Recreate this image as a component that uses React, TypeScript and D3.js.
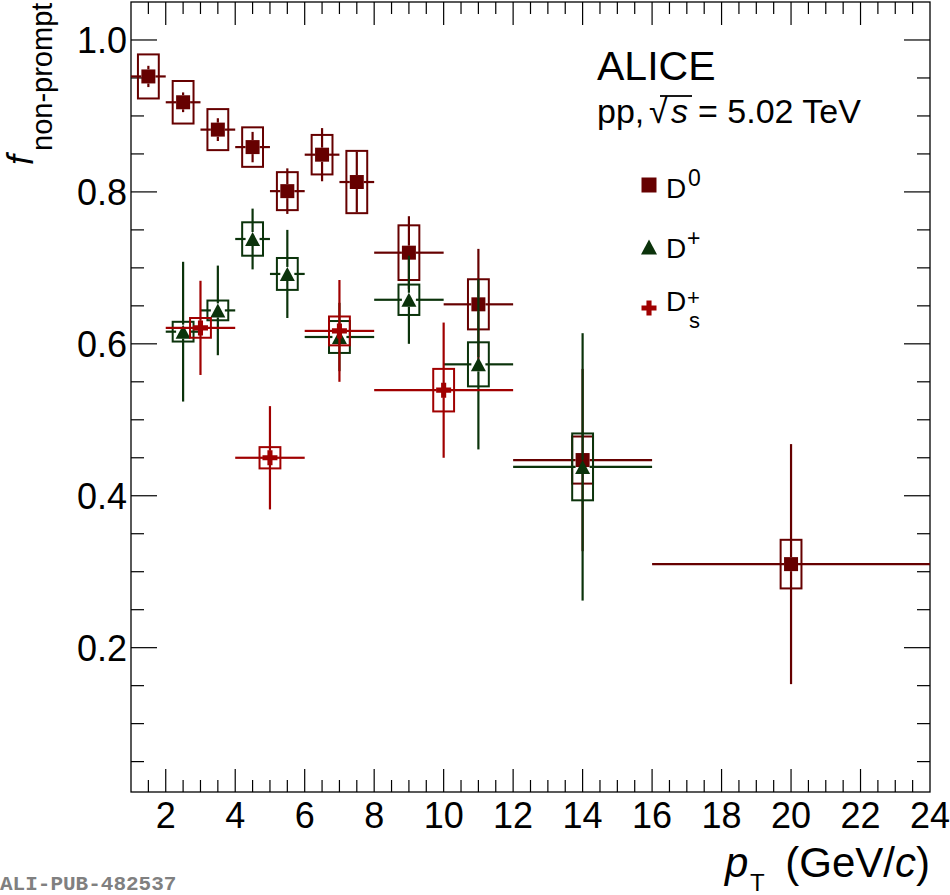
import { useEffect, useRef } from 'react';
import * as d3 from 'd3';

// D0 (filled squares)
const d0Pt = [1.5, 2.5, 3.5, 4.5, 5.5, 6.5, 7.5, 9, 11, 14, 20];
const d0Lo = [1, 2, 3, 4, 5, 6, 7, 8, 10, 12, 16];
const d0Hi = [2, 3, 4, 5, 6, 7, 8, 10, 12, 16, 24];
const d0Val = [0.952, 0.918, 0.882, 0.859, 0.801, 0.849, 0.813, 0.72, 0.652, 0.447, 0.31];
const d0Stat = [0.014, 0.013, 0.015, 0.02, 0.03, 0.035, 0.04, 0.048, 0.073, 0.12, 0.158];
const d0Syst = [0.029, 0.028, 0.027, 0.026, 0.025, 0.026, 0.041, 0.036, 0.033, 0.031, 0.032];

// D+ (filled triangles)
const dpPt = [2.5, 3.5, 4.5, 5.5, 7, 9, 11, 14];
const dpLo = [2, 3, 4, 5, 6, 8, 10, 12];
const dpHi = [3, 4, 5, 6, 8, 10, 12, 16];
const dpVal = [0.616, 0.644, 0.738, 0.692, 0.609, 0.658, 0.573, 0.438];
const dpStat = [0.092, 0.059, 0.04, 0.058, 0.045, 0.058, 0.112, 0.176];
const dpSyst = [0.013, 0.013, 0.022, 0.021, 0.021, 0.02, 0.029, 0.044];

// Ds+ (thick crosses)
const dsPt = [3, 5, 7, 10];
const dsLo = [2, 4, 6, 8];
const dsHi = [4, 6, 8, 12];
const dsVal = [0.621, 0.45, 0.617, 0.539];
const dsStat = [0.062, 0.068, 0.067, 0.089];
const dsSyst = [0.013, 0.014, 0.019, 0.028];

const xTickLabels = [2, 4, 6, 8, 10, 12, 14, 16, 18, 20, 22, 24];
const yTickLabels = [0.2, 0.4, 0.6, 0.8, 1.0];

const FONT = '"Liberation Sans", Arial, Helvetica, sans-serif';

type Series = {
  pt: number[];
  lo: number[];
  hi: number[];
  val: number[];
  stat: number[];
  syst: number[];
  color: string;
  marker: 'square' | 'triangle' | 'cross';
};

const series: Series[] = [
  { pt: d0Pt, lo: d0Lo, hi: d0Hi, val: d0Val, stat: d0Stat, syst: d0Syst, color: '#660000', marker: 'square' },
  { pt: dpPt, lo: dpLo, hi: dpHi, val: dpVal, stat: dpStat, syst: dpSyst, color: '#0b330b', marker: 'triangle' },
  { pt: dsPt, lo: dsLo, hi: dsHi, val: dsVal, stat: dsStat, syst: dsSyst, color: '#a00000', marker: 'cross' },
];

function markerPath(kind: string, s: number) {
  const h = s / 2;
  if (kind === 'square') return `M${-h},${-h}H${h}V${h}H${-h}Z`;
  if (kind === 'triangle') return `M0,${-h}L${h + 0.5},${h}L${-h - 0.5},${h}Z`;
  const a = s * 0.17;
  return `M${-a},${-h}H${a}V${-a}H${h}V${a}H${a}V${h}H${-a}V${a}H${-h}V${-a}H${-a}Z`;
}

export default function App() {
  const svgRef = useRef<SVGSVGElement>(null);

  useEffect(() => {
    if (!svgRef.current) return;
    const width = 950;
    const height = 895;
    const margin = { top: 2, right: 20, bottom: 103, left: 131 };

    d3.select(svgRef.current).selectAll('*').remove();
    const svg = d3.select(svgRef.current).attr('width', width).attr('height', height);

    const x = d3.scaleLinear().domain([1, 24]).range([margin.left, width - margin.right]);
    const y = d3.scaleLinear().domain([0.01, 1.05]).range([height - margin.bottom, margin.top]);
    const [x0, x1] = x.range();
    const [y0, y1] = y.range();

    // Frame
    svg
      .append('rect')
      .attr('x', x0)
      .attr('y', y1)
      .attr('width', x1 - x0)
      .attr('height', y0 - y1)
      .attr('fill', 'none')
      .attr('stroke', '#000')
      .attr('stroke-width', 1.3);

    const ticks = svg.append('g').attr('stroke', '#000').attr('stroke-width', 1.2);

    // x ticks (bottom + top), minor every 0.5
    d3.range(1.5, 24, 0.5).forEach((v) => {
      const major = Math.abs(v / 2 - Math.round(v / 2)) < 1e-6;
      const len = major ? 23 : 12;
      ticks.append('line').attr('x1', x(v)).attr('x2', x(v)).attr('y1', y0).attr('y2', y0 - len);
      ticks.append('line').attr('x1', x(v)).attr('x2', x(v)).attr('y1', y1).attr('y2', y1 + len);
    });

    // y ticks (left + right), minor every 0.05
    d3.range(1, 21).forEach((k) => {
      const v = k * 0.05;
      const major = k % 4 === 0;
      const len = major ? 26 : 13;
      ticks.append('line').attr('x1', x0).attr('x2', x0 + len).attr('y1', y(v)).attr('y2', y(v));
      ticks.append('line').attr('x1', x1).attr('x2', x1 - len).attr('y1', y(v)).attr('y2', y(v));
    });

    // tick labels
    svg
      .append('g')
      .selectAll('text')
      .data(xTickLabels)
      .join('text')
      .attr('x', (d) => x(d))
      .attr('y', 828)
      .attr('text-anchor', 'middle')
      .style('font-family', FONT)
      .style('font-size', '36px')
      .text((d) => d);

    svg
      .append('g')
      .selectAll('text')
      .data(yTickLabels)
      .join('text')
      .attr('x', 127)
      .attr('y', (d) => y(d) + 13)
      .attr('text-anchor', 'end')
      .style('font-family', FONT)
      .style('font-size', '36px')
      .text((d) => d.toFixed(1));

    // data
    const boxHalf = 0.3;
    series.forEach((s) => {
      const g = svg.append('g');
      const half = 7;
      s.pt.forEach((pt, i) => {
        const cx = x(pt);
        const cy = y(s.val[i]);
        // systematic box
        g.append('rect')
          .attr('x', x(pt - boxHalf))
          .attr('y', y(s.val[i] + s.syst[i]))
          .attr('width', x(pt + boxHalf) - x(pt - boxHalf))
          .attr('height', y(s.val[i] - s.syst[i]) - y(s.val[i] + s.syst[i]))
          .attr('fill', 'none')
          .attr('stroke', s.color)
          .attr('stroke-width', 2);

        const segs: [number, number, number, number][] = [];
        if (cx - x(s.lo[i]) > half) segs.push([x(s.lo[i]), cy, cx - half, cy]);
        if (x(s.hi[i]) - cx > half) segs.push([cx + half, cy, x(s.hi[i]), cy]);
        const top = y(s.val[i] + s.stat[i]);
        const bot = y(s.val[i] - s.stat[i]);
        if (cy - top > half) segs.push([cx, top, cx, cy - half]);
        if (bot - cy > half) segs.push([cx, cy + half, cx, bot]);
        segs.forEach(([a, b, c, d]) => {
          g.append('line')
            .attr('x1', a)
            .attr('y1', b)
            .attr('x2', c)
            .attr('y2', d)
            .attr('stroke', s.color)
            .attr('stroke-width', 2.2);
        });
      });
      s.pt.forEach((pt, i) => {
        g.append('path')
          .attr('transform', `translate(${x(pt)},${y(s.val[i])})`)
          .attr('d', markerPath(s.marker, s.marker === 'cross' ? 15 : 14))
          .attr('fill', s.color);
      });
    });

    // ALICE label
    svg
      .append('text')
      .attr('x', 597)
      .attr('y', 80)
      .style('font-family', FONT)
      .style('font-size', '41px')
      .text('ALICE');

    const energy = svg.append('g').style('font-family', FONT).style('font-size', '34px');
    energy.append('text').attr('x', 597).attr('y', 123).text('pp,');
    energy.append('text').attr('x', 649).attr('y', 123).text('\u221A');
    energy.append('text').attr('x', 671).attr('y', 123).style('font-style', 'italic').text('s');
    energy
      .append('line')
      .attr('x1', 660)
      .attr('x2', 692)
      .attr('y1', 96)
      .attr('y2', 96)
      .attr('stroke', '#000')
      .attr('stroke-width', 1.8);
    energy.append('text').attr('x', 698).attr('y', 123).text('= 5.02 TeV');

    // legend
    const legend = svg.append('g').style('font-family', FONT);
    const legendY = [185, 247, 308];
    series.forEach((s, i) => {
      legend
        .append('path')
        .attr('transform', `translate(649,${legendY[i]})`)
        .attr('d', markerPath(s.marker, 15))
        .attr('fill', s.color);
    });
    legend.append('text').attr('x', 666).attr('y', 198).style('font-size', '28px').text('D');
    legend.append('text').attr('x', 688).attr('y', 186).style('font-size', '23px').text('0');
    legend.append('text').attr('x', 666).attr('y', 258).style('font-size', '28px').text('D');
    legend.append('text').attr('x', 687).attr('y', 246).style('font-size', '23px').text('+');
    legend.append('text').attr('x', 666).attr('y', 311).style('font-size', '28px').text('D');
    legend.append('text').attr('x', 687).attr('y', 305).style('font-size', '22px').text('+');
    legend.append('text').attr('x', 689).attr('y', 328).style('font-size', '22px').text('s');

    // y axis title
    const yTitle = svg
      .append('text')
      .attr('transform', 'translate(33,165) rotate(-90)')
      .style('font-family', FONT);
    yTitle.append('tspan').style('font-size', '36px').style('font-style', 'italic').text('f');
    yTitle.append('tspan').attr('dx', 4).attr('dy', 19).style('font-size', '29px').text('non-prompt');

    // x axis title
    const xTitle = svg.append('g').style('font-family', FONT);
    xTitle
      .append('text')
      .attr('x', 725)
      .attr('y', 877)
      .style('font-size', '42px')
      .style('font-style', 'italic')
      .text('p');
    xTitle.append('text').attr('x', 750).attr('y', 891).style('font-size', '24px').text('T');
    const unit = xTitle
      .append('text')
      .attr('x', 930)
      .attr('y', 877)
      .attr('text-anchor', 'end')
      .style('font-size', '42px');
    unit.append('tspan').text('(GeV/');
    unit.append('tspan').style('font-style', 'italic').text('c');
    unit.append('tspan').text(')');

    // publication id
    svg
      .append('text')
      .attr('x', 0)
      .attr('y', 890)
      .style('font-family', '"Liberation Mono", "DejaVu Sans Mono", monospace')
      .style('font-size', '21px')
      .style('font-weight', 'bold')
      .attr('fill', '#808080')
      .text('ALI-PUB-482537');
  }, []);

  return <svg ref={svgRef} style={{ position: 'absolute', left: 0, top: 0 }}></svg>;
}
